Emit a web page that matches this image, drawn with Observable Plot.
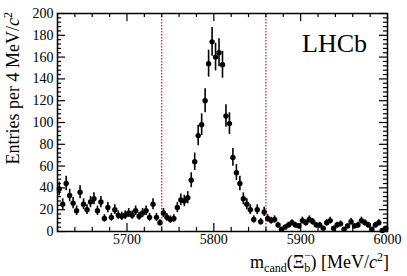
<!DOCTYPE html>
<html>
<head>
<meta charset="utf-8">
<script src="https://cdn.jsdelivr.net/npm/d3@7"></script>
<script src="https://cdn.jsdelivr.net/npm/@observablehq/plot@0.6"></script>
<style>
  html, body { margin: 0; padding: 0; background: #fff; }
  #chart svg { display: block; }
</style>
</head>
<body>
<div id="chart"></div>
<script>
// Histogram: 4 MeV bins from 5620 to 6000 MeV
const binStart = 5620;
const binWidth = 4;
const counts = [
  39, 25, 44, 33, 26, 19, 36, 25, 20, 27,
  30, 19, 27, 12, 22, 13, 20, 15, 14, 15,
  17, 15, 19, 14, 17, 19, 13, 25, 13, 8,
  17, 13, 11, 12, 22, 29, 28, 31, 47, 64,
  88, 98, 120, 154, 174, 160, 164, 153, 106, 99,
  68, 54, 44, 30, 25, 20, 11, 20, 9, 18,
  12, 10, 11, 6, 2, 4, 6, 8, 6, 5,
  10, 8, 11, 9, 6, 6, 3, 8, 10, 3,
  6, 7, 2, 5, 9, 5, 6, 10, 8, 6,
  2, 6, 8, 1, 3
];
const signalWindow = [5740, 5860];
const xMajorTicks = [5700, 5800, 5900, 6000];
const xMinorTicks = [5620, 5640, 5660, 5680, 5720, 5740, 5760, 5780, 5820, 5840, 5860, 5880, 5920, 5940, 5960, 5980];
const yMajorTicks = [0, 20, 40, 60, 80, 100, 120, 140, 160, 180, 200];
const yMinorTicks = d3.range(0, 201, 4).filter(v => v % 20 !== 0);

const data = counts.map((n, i) => ({
  m: binStart + binWidth * (i + 0.5),
  n,
  lo: n - Math.sqrt(n),
  hi: n + Math.sqrt(n)
}));

const font = "'Liberation Serif', 'DejaVu Serif', serif";
const W = 407, H = 276, mL = 57, mR = 20, mT = 13, mB = 45;
const plotW = W - mL - mR, plotH = H - mT - mB;
const majorLen = 8, minorLen = 4;

const plot = Plot.plot({
  width: W,
  height: H,
  marginLeft: mL,
  marginRight: mR,
  marginTop: mT,
  marginBottom: mB,
  style: { fontFamily: font, fontSize: "14px", background: "white", color: "black" },
  x: { domain: [5620, 6000], label: null, axis: null },
  y: { domain: [0, 200], label: null, axis: null },
  marks: [
    Plot.ruleX(signalWindow, { stroke: "#ee1111", strokeWidth: 1.2, strokeDasharray: "1.6,1.4" }),
    Plot.ruleX(data, { x: "m", y1: "lo", y2: "hi", stroke: "black", strokeWidth: 1.6 }),
    Plot.dot(data, { x: "m", y: "n", r: 2.7, fill: "black", stroke: null }),
    // inward ticks: bottom & top
    Plot.tickX(xMinorTicks, { x: d => d, insetTop: plotH - minorLen, stroke: "black", strokeWidth: 1.2 }),
    Plot.tickX(xMajorTicks, { x: d => d, insetTop: plotH - majorLen, stroke: "black", strokeWidth: 1.2 }),
    Plot.tickX(xMinorTicks, { x: d => d, insetBottom: plotH - minorLen, stroke: "black", strokeWidth: 1.2 }),
    Plot.tickX(xMajorTicks, { x: d => d, insetBottom: plotH - majorLen, stroke: "black", strokeWidth: 1.2 }),
    // inward ticks: left & right
    Plot.tickY(yMinorTicks, { y: d => d, insetRight: plotW - minorLen, stroke: "black", strokeWidth: 1.2 }),
    Plot.tickY(yMajorTicks, { y: d => d, insetRight: plotW - majorLen, stroke: "black", strokeWidth: 1.2 }),
    Plot.tickY(yMinorTicks, { y: d => d, insetLeft: plotW - minorLen, stroke: "black", strokeWidth: 1.2 }),
    Plot.tickY(yMajorTicks, { y: d => d, insetLeft: plotW - majorLen, stroke: "black", strokeWidth: 1.2 }),
    // tick labels
    Plot.axisX({ anchor: "bottom", ticks: xMajorTicks, tickSize: 0, tickPadding: 3, tickFormat: d => String(d), fontSize: 14, label: null }),
    Plot.axisY({ anchor: "left", ticks: yMajorTicks, tickSize: 0, tickPadding: 4, tickFormat: d => String(d), fontSize: 14, label: null }),
    Plot.frame({ stroke: "black", strokeWidth: 1.5 })
  ]
});

const svg = d3.select(plot);
// LHCb label
svg.append("text")
  .attr("x", 367).attr("y", 52)
  .attr("text-anchor", "end")
  .attr("font-family", font)
  .attr("font-size", 26)
  .attr("fill", "black")
  .text("LHCb");

// y title
const yt = svg.append("text")
  .attr("transform", "translate(19,12) rotate(-90)")
  .attr("text-anchor", "end")
  .attr("font-family", font)
  .attr("font-size", 18)
  .attr("fill", "black");
yt.append("tspan").text("Entries per 4 MeV/");
yt.append("tspan").attr("font-style", "italic").text("c");
yt.append("tspan").attr("font-size", 12).attr("dy", -7).text("2");

// x title
const xt = svg.append("text")
  .attr("x", 389).attr("y", 268)
  .attr("text-anchor", "end")
  .attr("font-family", font)
  .attr("font-size", 18)
  .attr("fill", "black");
xt.append("tspan").text("m");
xt.append("tspan").attr("font-size", 12).attr("dy", 4).text("cand");
xt.append("tspan").attr("dy", -4).text("(Ξ");
xt.append("tspan").attr("font-size", 12).attr("dy", 4).text("b");
xt.append("tspan").attr("font-size", 11).attr("dx", -6).attr("dy", -13).text("−");
xt.append("tspan").attr("dy", 9).text(") [MeV/");
xt.append("tspan").attr("font-style", "italic").text("c");
xt.append("tspan").attr("font-size", 12).attr("dy", -7).text("2");
xt.append("tspan").attr("dy", 7).text("]");

document.getElementById("chart").appendChild(plot);
</script>
</body>
</html>
